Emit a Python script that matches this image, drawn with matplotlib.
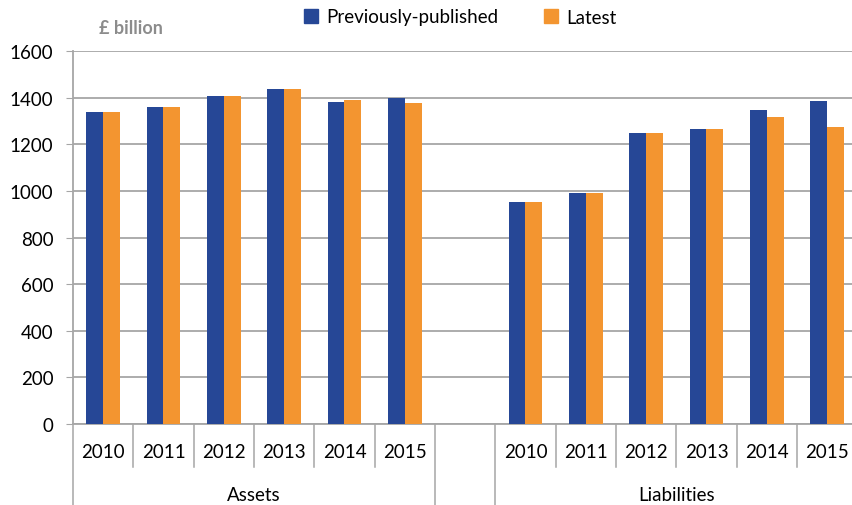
import matplotlib
matplotlib.use('Agg')
from matplotlib import pyplot as plt
from matplotlib.patches import Patch
import matplotlib.transforms as mtransforms

plt.rcParams['font.family'] = ['Lato', 'DejaVu Sans']

# data (GBP billion)
years = ['2010', '2011', '2012', '2013', '2014', '2015']
groups = ['Assets', 'Liabilities']
assets_prev = [1340, 1361, 1408, 1437, 1383, 1398]
assets_latest = [1340, 1361, 1408, 1437, 1389, 1376]
liab_prev = [951, 991, 1251, 1265, 1348, 1388]
liab_latest = [951, 991, 1251, 1265, 1320, 1273]

blue = '#264796'
orange = '#F39530'
grid_c = '#a6a6a6'
fs = 13.5

fig = plt.figure(figsize=(8.52, 5.06), dpi=100)
W, H = 852, 506
ax = fig.add_axes([73 / W, (H - 425) / H, (W - 73) / W, (425 - 52.3) / H])

# slot positions: assets 0..5, gap at 6, liabilities 7..12
xa = list(range(6))
xl = [i + 7 for i in range(6)]
bw = 0.28
ax.bar([x - bw / 2 for x in xa], assets_prev, bw, color=blue, zorder=3)
ax.bar([x + bw / 2 for x in xa], assets_latest, bw, color=orange, zorder=3)
ax.bar([x - bw / 2 for x in xl], liab_prev, bw, color=blue, zorder=3)
ax.bar([x + bw / 2 for x in xl], liab_latest, bw, color=orange, zorder=3)

ax.set_ylim(0, 1600)
ax.set_xlim(-0.5, -0.5 + (W - 73) / 60.33)
ax.set_yticks(range(0, 1601, 200))
ax.tick_params(axis='y', length=5, color=grid_c, labelsize=fs, pad=9)
ax.set_xticks([])
ax.grid(axis='y', color=grid_c, lw=1.3, zorder=0)
for s in ['top', 'right']:
    ax.spines[s].set_visible(False)
for s in ['left', 'bottom']:
    ax.spines[s].set_color(grid_c)
    ax.spines[s].set_linewidth(1.3)

# category axis: year labels, separators and group labels
trans = mtransforms.blended_transform_factory(ax.transData, ax.transAxes)
for xs in (xa, xl):
    for x, y in zip(xs, years):
        ax.text(x, -0.075, y, transform=trans, ha='center', va='center', fontsize=fs)
for i in range(14):
    b = i - 0.5
    low = -0.25 if b in (-0.5, 5.5, 6.5) else -0.115
    ax.plot([b, b], [0, low], transform=trans, color=grid_c, lw=1.1, clip_on=False)
ax.text(2.5, -0.188, groups[0], transform=trans, ha='center', va='center', fontsize=fs)
ax.text(9.5, -0.188, groups[1], transform=trans, ha='center', va='center', fontsize=fs)

fig.text(99 / W, 1 - 29 / H, '£ billion', color='#8c8c8c', fontsize=13,
         fontweight='bold', ha='left', va='center')

handles = [Patch(color=blue, label='Previously-published'),
           Patch(color=orange, label='Latest')]
fig.legend(handles=handles, loc='center', bbox_to_anchor=(0.54, 1 - 18 / H), ncol=2,
           frameon=False, fontsize=fs, handlelength=0.75, handleheight=0.75,
           handletextpad=0.45, columnspacing=2.4)

fig.savefig('out.png', dpi=100)
